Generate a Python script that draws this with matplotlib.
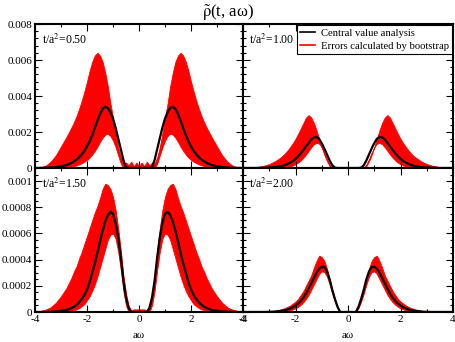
import numpy as np
import matplotlib
matplotlib.use("Agg")
import matplotlib.pyplot as plt
from matplotlib.ticker import MultipleLocator
from matplotlib.lines import Line2D

plt.rcParams['font.family'] = ['Liberation Serif', 'DejaVu Serif']
plt.rcParams['mathtext.fontset'] = 'stix'

# a*omega grid (positive half; curves are mirrored to negative side)
omega_half = [0.0, 0.1, 0.2, 0.3, 0.4, 0.5, 0.6, 0.7, 0.8, 0.9,
              1.0, 1.1, 1.2, 1.3, 1.4, 1.5, 1.6, 1.7, 1.8, 1.9,
              2.0, 2.1, 2.2, 2.3, 2.4, 2.5, 2.6,
              2.8, 3.0, 3.2, 3.4, 3.6, 3.8, 4.0]

panel_labels = ["0.50", "1.00", "1.50", "2.00"]

# values in units of 1e-3
central_050 = [0, 0, 0, 0, 0, 0.03, 0.45, 1.05, 1.65, 2.25,
               2.75, 3.1, 3.33, 3.4, 3.28, 3.0, 2.62, 2.22, 1.82, 1.48,
               1.2, 0.95, 0.76, 0.6, 0.47, 0.37, 0.28,
               0.16, 0.09, 0.05, 0.025, 0.012, 0.005, 0]
upper_050 = [0.12, 0.3, 0.1, 0.35, 0.15, 0.3, 0.25, 0.6, 1.15, 1.95,
             2.8, 3.6, 4.55, 5.3, 5.9, 6.25, 6.4, 6.25, 5.9, 5.4,
             4.8, 4.25, 3.75, 3.3, 2.9, 2.55, 2.25,
             1.7, 1.2, 0.7, 0.35, 0.12, 0.04, 0.01]
lower_050 = [0, 0, 0, 0, 0, 0, 0, 0.25, 0.7, 1.15,
             1.52, 1.78, 1.9, 1.85, 1.68, 1.45, 1.18, 0.95, 0.75, 0.58,
             0.45, 0.35, 0.27, 0.2, 0.15, 0.11, 0.08,
             0.04, 0.02, 0.01, 0, 0, 0, 0]

central_100 = [0, 0, 0, 0, 0, 0.02, 0.15, 0.42, 0.75, 1.08,
               1.38, 1.62, 1.73, 1.7, 1.58, 1.4, 1.2, 1.0, 0.82, 0.65,
               0.5, 0.39, 0.3, 0.23, 0.17, 0.12, 0.09,
               0.05, 0.025, 0.012, 0.005, 0, 0, 0]
upper_100 = [0, 0, 0, 0, 0, 0, 0.02, 0.1, 0.38, 0.72,
             1.15, 1.62, 2.1, 2.5, 2.8, 2.94, 2.8, 2.5, 2.2, 1.9,
             1.62, 1.38, 1.17, 0.98, 0.81, 0.67, 0.55,
             0.36, 0.22, 0.13, 0.07, 0.04, 0.02, 0.01]
lower_100 = [0, 0, 0, 0, 0, 0, 0, 0.2, 0.5, 0.85,
             1.15, 1.35, 1.4, 1.32, 1.15, 0.95, 0.75, 0.57, 0.42, 0.3,
             0.21, 0.14, 0.09, 0.06, 0.04, 0.02, 0.01,
             0, 0, 0, 0, 0, 0, 0]

central_150 = [0, 0, 0, 0, 0.03, 0.11, 0.24, 0.42, 0.57, 0.68,
               0.75, 0.765, 0.74, 0.69, 0.62, 0.54, 0.45, 0.37, 0.3, 0.23,
               0.17, 0.13, 0.1, 0.075, 0.055, 0.04, 0.03,
               0.015, 0.008, 0.004, 0.002, 0, 0, 0]
upper_150 = [0.02, 0.02, 0.02, 0.01, 0.05, 0.14, 0.28, 0.47, 0.64, 0.78,
             0.88, 0.94, 0.97, 0.98, 0.94, 0.87, 0.81, 0.76, 0.7, 0.64,
             0.58, 0.52, 0.46, 0.41, 0.35, 0.31, 0.26,
             0.18, 0.12, 0.07, 0.035, 0.018, 0.008, 0.003]
lower_150 = [0, 0, 0, 0, 0, 0.05, 0.16, 0.32, 0.46, 0.56,
             0.6, 0.59, 0.55, 0.48, 0.41, 0.34, 0.27, 0.21, 0.16, 0.12,
             0.09, 0.06, 0.045, 0.03, 0.02, 0.015, 0.01,
             0, 0, 0, 0, 0, 0, 0]

central_200 = [0, 0, 0, 0, 0.04, 0.1, 0.17, 0.25, 0.31, 0.345,
               0.345, 0.33, 0.3, 0.26, 0.22, 0.18, 0.14, 0.11, 0.085, 0.065,
               0.05, 0.037, 0.027, 0.02, 0.014, 0.01, 0.007,
               0.003, 0.001, 0, 0, 0, 0, 0]
upper_200 = [0, 0, 0, 0, 0.04, 0.1, 0.17, 0.25, 0.33, 0.39,
             0.42, 0.43, 0.39, 0.34, 0.28, 0.24, 0.2, 0.16, 0.13, 0.1,
             0.08, 0.065, 0.05, 0.04, 0.03, 0.024, 0.018,
             0.01, 0.005, 0.002, 0, 0, 0, 0]
lower_200 = [0, 0, 0, 0, 0.03, 0.08, 0.14, 0.21, 0.27, 0.305,
             0.31, 0.29, 0.25, 0.21, 0.17, 0.13, 0.1, 0.075, 0.055, 0.04,
             0.028, 0.02, 0.013, 0.008, 0.005, 0.003, 0.002,
             0, 0, 0, 0, 0, 0, 0]

centrals = [central_050, central_100, central_150, central_200]
uppers = [upper_050, upper_100, upper_150, upper_200]
lowers = [lower_050, lower_100, lower_150, lower_200]


def mirror(v):
    v = np.asarray(v, dtype=float)
    return np.concatenate([v[::-1], v[1:]])


w_half = np.asarray(omega_half)
w = np.concatenate([-w_half[::-1], w_half[1:]])

fig = plt.figure(figsize=(4.55, 3.42), dpi=100)
L, M, R = 35 / 455, 243 / 455, 453 / 455
T, Mid, B = 1 - 24 / 342, 1 - 168 / 342, 1 - 312 / 342
rects = [
    [L, Mid, M - L, T - Mid],
    [M, Mid, R - M, T - Mid],
    [L, B, M - L, Mid - B],
    [M, B, R - M, Mid - B],
]

axes = []
for i, rc in enumerate(rects):
    ax = fig.add_axes(rc)
    axes.append(ax)
    c = mirror(centrals[i]) * 1e-3
    up = mirror(uppers[i]) * 1e-3
    lo = mirror(lowers[i]) * 1e-3
    ax.fill_between(w, lo, up, color='red', lw=0.6, edgecolor='red')
    ax.plot(w, c, color='black', lw=1.6)
    ax.set_xlim(-4, 4)
    top_row = i < 2
    if top_row:
        ax.set_ylim(0, 0.008)
        ax.set_yticks([0, 0.002, 0.004, 0.006, 0.008])
        ax.set_yticklabels(["0", "0.002", "0.004", "0.006", "0.008"])
        ax.yaxis.set_minor_locator(MultipleLocator(0.0004))
    else:
        ax.set_ylim(0, 0.0011)
        ax.set_yticks([0, 0.0002, 0.0004, 0.0006, 0.0008, 0.001])
        ax.set_yticklabels(["0", "0.0002", "0.0004", "0.0006", "0.0008", "0.001"])
        ax.yaxis.set_minor_locator(MultipleLocator(0.00005))
    ax.set_xticks([-4, -2, 0, 2, 4])
    ax.set_xticklabels(["-4", "-2", "0", "2", "4"])
    ax.xaxis.set_minor_locator(MultipleLocator(1))
    ax.tick_params(which='both', direction='in', top=True, right=True,
                   labelsize=8, pad=2, width=0.8)
    ax.tick_params(which='major', length=5)
    ax.tick_params(which='minor', length=2.5)
    for s in ax.spines.values():
        s.set_linewidth(1.5)
    if top_row:
        ax.tick_params(labelbottom=False)
    else:
        ax.set_xlabel("aω", fontsize=8, labelpad=5)
    if i % 2 == 1:
        ax.tick_params(labelleft=False)
    ax.text(0.035 if i % 2 == 0 else 0.03, 0.89,
            "t/a$^2$=" + panel_labels[i], transform=ax.transAxes,
            fontsize=8.5, ha='left', va='center')

handles = [Line2D([], [], color='black', lw=1.2),
           Line2D([], [], color='red', lw=1.2)]
leg = axes[1].legend(handles, ["Central value analysis",
                               "Errors calculated by bootstrap"],
                     loc='upper right', fontsize=7.7, frameon=True,
                     fancybox=False, edgecolor='black', framealpha=1,
                     borderpad=0.3, handlelength=1.4, handletextpad=0.5,
                     labelspacing=0.3, borderaxespad=0.12)
leg.get_frame().set_linewidth(0.8)

fig.text(0.5, 1 - 13 / 342, r"$\tilde{\mathrm{\rho}}$(t, aω)", ha='center',
         va='center', fontsize=12)

fig.savefig("out.png", dpi=100)
